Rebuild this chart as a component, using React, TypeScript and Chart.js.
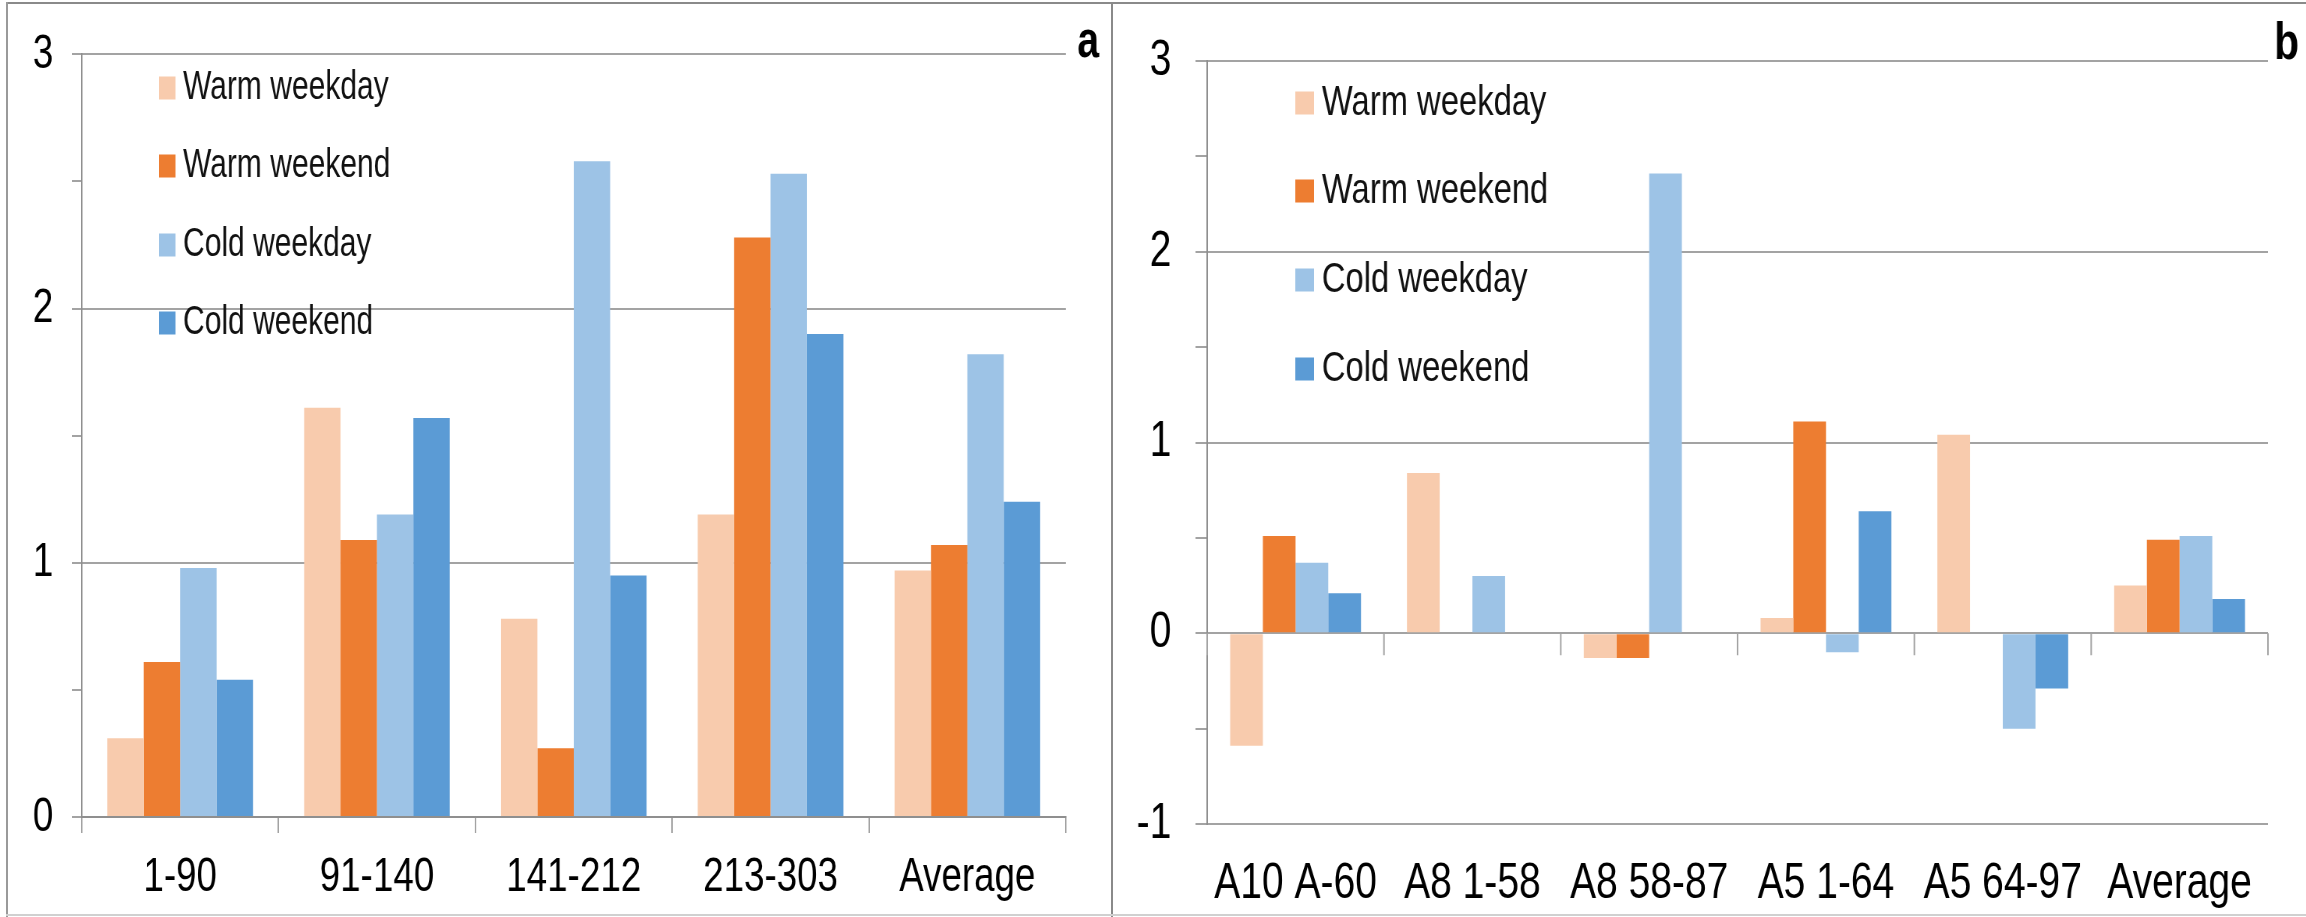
import React, { useEffect, useRef } from "react";
import { Chart, registerables } from "chart.js";

Chart.register(...registerables);

// ---------- data ----------
const SERIES_LABELS = ["Warm weekday", "Warm weekend", "Cold weekday", "Cold weekend"];
const SERIES_COLORS = ["#F8CBAD", "#ED7D31", "#9DC3E6", "#5B9BD5"];

const A_CATEGORIES = ["1-90", "91-140", "141-212", "213-303", "Average"];
const A_WARM_WEEKDAY = [0.31, 1.61, 0.78, 1.19, 0.97];
const A_WARM_WEEKEND = [0.61, 1.09, 0.27, 2.28, 1.07];
const A_COLD_WEEKDAY = [0.98, 1.19, 2.58, 2.53, 1.82];
const A_COLD_WEEKEND = [0.54, 1.57, 0.95, 1.9, 1.24];
const A_Y_RANGE = [0, 3];

const B_CATEGORIES = ["A10 A-60", "A8 1-58", "A8 58-87", "A5 1-64", "A5 64-97", "Average"];
const B_WARM_WEEKDAY = [-0.59, 0.84, -0.13, 0.08, 1.04, 0.25];
const B_WARM_WEEKEND = [0.51, 0, -0.13, 1.11, 0, 0.49];
const B_COLD_WEEKDAY = [0.37, 0.3, 2.41, -0.1, -0.5, 0.51];
const B_COLD_WEEKEND = [0.21, 0, 0, 0.64, -0.29, 0.18];
const B_Y_RANGE = [-1, 3];

// ---------- style ----------
const FONT = "'Liberation Sans', Arial, Helvetica, sans-serif";
const GRID = "#a3a3a3";
const AXIS = "#8f8f8f";
const H = 917;

const isInt = (v: number) => Math.abs(v - Math.round(v)) < 1e-9;

type PanelCfg = {
  letter: string;
  categories: string[];
  series: number[][];
  yRange: number[];
  left: number; // real px
  realWidth: number;
  squeeze: number; // the reference is horizontally condensed
  tickFont: number;
  legendFont: number;
  yAxisWidth: number; // virtual (unsqueezed) px
  padRight: number;
  padTop: number;
  xAxisHeight: number;
  yTickPad: number;
  yTickLen: number;
  xTickLen: number; // 0 => no ticks on the bottom axis
  xTickPad: number;
  zeroTickLen: number;
  legendMarkerX: number;
  legendMarkerW: number;
  legendMarkerH: number;
  legendTextX: number;
  legendY: number[];
  letterX: number;
  letterY: number;
};

const PANEL_A: PanelCfg = {
  letter: "a",
  categories: A_CATEGORIES,
  series: [A_WARM_WEEKDAY, A_WARM_WEEKEND, A_COLD_WEEKDAY, A_COLD_WEEKEND],
  yRange: A_Y_RANGE,
  left: 0,
  realWidth: 1112,
  squeeze: 0.75,
  tickFont: 49,
  legendFont: 40,
  yAxisWidth: 109,
  padRight: 62,
  padTop: 49,
  xAxisHeight: 100,
  yTickPad: 25,
  yTickLen: 13,
  xTickLen: 16,
  xTickPad: 15,
  zeroTickLen: 0,
  legendMarkerX: 212,
  legendMarkerW: 22,
  legendMarkerH: 23,
  legendTextX: 244,
  legendY: [88, 166, 245, 323],
  letterX: 1451,
  letterY: 57,
};

const PANEL_B: PanelCfg = {
  letter: "b",
  categories: B_CATEGORIES,
  series: [B_WARM_WEEKDAY, B_WARM_WEEKEND, B_COLD_WEEKDAY, B_COLD_WEEKEND],
  yRange: B_Y_RANGE,
  left: 1112,
  realWidth: 1194,
  squeeze: 0.78,
  tickFont: 50,
  legendFont: 42,
  yAxisWidth: 122,
  padRight: 49,
  padTop: 32,
  xAxisHeight: 93,
  yTickPad: 31,
  yTickLen: 15,
  xTickLen: 0,
  xTickPad: 30,
  zeroTickLen: 22,
  legendMarkerX: 235,
  legendMarkerW: 24,
  legendMarkerH: 23,
  legendTextX: 269,
  legendY: [103, 191, 280, 369],
  letterX: 1506,
  letterY: 59,
};

function makeDecorPlugin(cfg: PanelCfg) {
  return {
    id: "panelDecor" + cfg.letter,
    afterDatasetsDraw(chart: any) {
      const ctx = chart.ctx as CanvasRenderingContext2D;
      const area = chart.chartArea;
      const yScale = chart.scales.y;
      ctx.save();
      if (cfg.zeroTickLen > 0) {
        const y0 = yScale.getPixelForValue(0);
        const n = chart.data.labels.length;
        ctx.strokeStyle = GRID;
        ctx.lineWidth = 2;
        for (let i = 0; i <= n; i++) {
          const px = area.left + ((area.right - area.left) * i) / n;
          ctx.beginPath();
          ctx.moveTo(px, y0);
          ctx.lineTo(px, y0 + cfg.zeroTickLen);
          ctx.stroke();
        }
      }
      ctx.font = `${cfg.legendFont}px ${FONT}`;
      ctx.textAlign = "left";
      ctx.textBaseline = "middle";
      chart.data.datasets.forEach((ds: any, i: number) => {
        const cy = cfg.legendY[i];
        ctx.fillStyle = ds.backgroundColor;
        ctx.fillRect(cfg.legendMarkerX, cy - cfg.legendMarkerH / 2, cfg.legendMarkerW, cfg.legendMarkerH);
        ctx.fillStyle = "#111";
        ctx.fillText(ds.label, cfg.legendTextX, cy);
      });
      ctx.font = `bold 52px ${FONT}`;
      ctx.textAlign = "center";
      ctx.textBaseline = "alphabetic";
      ctx.fillStyle = "#000";
      ctx.fillText(cfg.letter, cfg.letterX, cfg.letterY);
      ctx.restore();
    },
  };
}

function Panel({ cfg }: { cfg: PanelCfg }) {
  const ref = useRef<HTMLCanvasElement | null>(null);
  const vWidth = Math.round(cfg.realWidth / cfg.squeeze);

  useEffect(() => {
    if (!ref.current) return;
    const chart = new Chart(ref.current, {
      type: "bar",
      data: {
        labels: cfg.categories,
        datasets: cfg.series.map((vals, i) => ({
          label: SERIES_LABELS[i],
          data: vals,
          backgroundColor: SERIES_COLORS[i],
          borderWidth: 0,
          barPercentage: 1,
          categoryPercentage: 0.74,
        })),
      },
      options: {
        animation: false,
        responsive: false,
        maintainAspectRatio: false,
        devicePixelRatio: 1,
        layout: { padding: { left: 0, right: cfg.padRight, top: cfg.padTop, bottom: 0 } },
        plugins: { legend: { display: false }, tooltip: { enabled: false }, title: { display: false } },
        scales: {
          x: {
            offset: true,
            grid: {
              display: cfg.xTickLen > 0,
              drawOnChartArea: false,
              drawTicks: cfg.xTickLen > 0,
              tickLength: cfg.xTickLen,
              color: GRID,
              lineWidth: 2,
              offset: true,
            },
            border: { display: cfg.xTickLen > 0, color: AXIS, width: 2 },
            ticks: {
              color: "#000",
              font: { family: FONT, size: cfg.tickFont },
              padding: cfg.xTickPad,
              maxRotation: 0,
              minRotation: 0,
              autoSkip: false,
            },
            afterFit: (s: any) => {
              s.height = cfg.xAxisHeight;
            },
          },
          y: {
            min: cfg.yRange[0],
            max: cfg.yRange[1],
            grid: {
              color: (c: any) => (c.tick && isInt(c.tick.value) ? GRID : "rgba(0,0,0,0)"),
              tickColor: GRID,
              lineWidth: 2,
              drawTicks: true,
              tickLength: cfg.yTickLen,
            },
            border: { display: true, color: AXIS, width: 2 },
            ticks: {
              stepSize: 0.5,
              autoSkip: false,
              color: "#000",
              font: { family: FONT, size: cfg.tickFont },
              padding: cfg.yTickPad,
              callback: (v: any) => (isInt(Number(v)) ? String(Math.round(Number(v))) : ""),
            },
            afterFit: (s: any) => {
              s.width = cfg.yAxisWidth;
            },
          },
        },
      },
      plugins: [makeDecorPlugin(cfg)],
    } as any);
    return () => chart.destroy();
  }, []);

  return (
    <div
      style={{
        position: "absolute",
        left: cfg.left,
        top: 0,
        width: vWidth,
        height: H,
        transform: `scaleX(${cfg.squeeze})`,
        transformOrigin: "0 0",
      }}
    >
      <canvas ref={ref} width={vWidth} height={H} style={{ display: "block", width: vWidth, height: H }} />
    </div>
  );
}

export default function App() {
  return (
    <div
      style={{
        position: "absolute",
        left: 0,
        top: 0,
        width: 2306,
        height: H,
        background: "#fff",
        overflow: "hidden",
      }}
    >
      <Panel cfg={PANEL_A} />
      <Panel cfg={PANEL_B} />
      {/* frame lines */}
      <div style={{ position: "absolute", left: 6, top: 2, width: 2300, height: 2, background: "#8a8a8a" }} />
      <div style={{ position: "absolute", left: 6, top: 2, width: 2, height: 915, background: "#9a9a9a" }} />
      <div style={{ position: "absolute", left: 1111, top: 2, width: 2, height: 915, background: "#8a8a8a" }} />
      <div style={{ position: "absolute", left: 6, top: 914, width: 2300, height: 2, background: "#d0d0d0" }} />
    </div>
  );
}
